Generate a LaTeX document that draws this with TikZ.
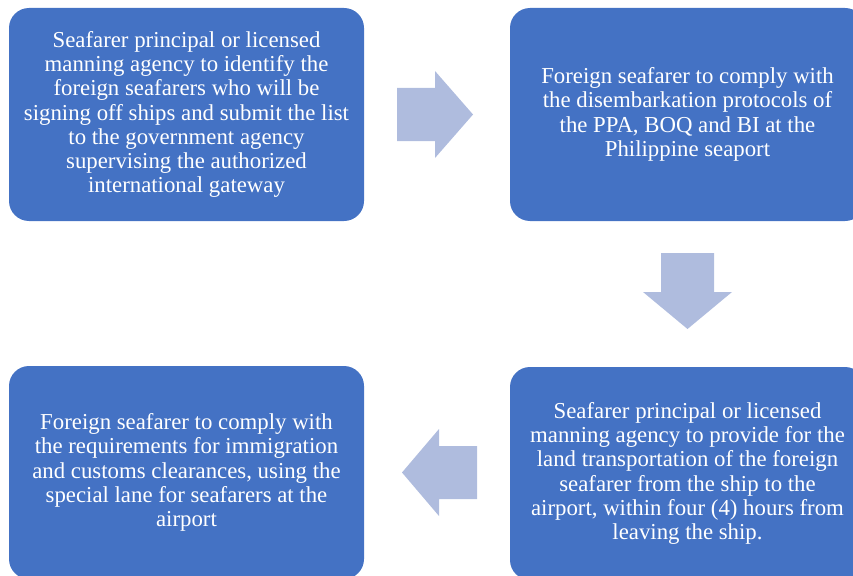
\documentclass[tikz,border=0pt]{standalone}
\usepackage{fontspec}
\setmainfont{Liberation Serif}
\usepackage{xcolor}
\definecolor{stepblue}{RGB}{68,114,196}
\definecolor{arrowblue}{RGB}{175,188,222}

\begin{document}
\begin{tikzpicture}[x=1pt, y=-1pt,
    stepbox/.style={fill=stepblue, rounded corners=20pt, minimum width=355pt, minimum height=213pt,
        text=white, align=center, inner sep=0pt, font=\fontsize{22.8}{24.3}\selectfont}, % box of one step
    blockarrow/.style={fill=arrowblue}
    ]
\useasboundingbox (0,0) rectangle (853,575);
\clip (0,0) rectangle (853,575);

\node[stepbox] (s1) at (186.5,114.5) {Seafarer principal or licensed\\ manning agency to identify the\\ foreign seafarers who will be\\ signing off ships and submit the list\\ to the government agency\\ supervising the authorized\\ international gateway};
\node[stepbox] (s2) at (687.5,114.5) {Foreign seafarer to comply with\\ the disembarkation protocols of\\ the PPA, BOQ and BI at the\\ Philippine seaport};
\node[stepbox] (s3) at (687.5,473.5) {Seafarer principal or licensed\\ manning agency to provide for the\\ land transportation of the foreign\\ seafarer from the ship to the\\ airport, within four (4) hours from\\ leaving the ship.};
\node[stepbox] (s4) at (186.5,472.5) {Foreign seafarer to comply with\\ the requirements for immigration\\ and customs clearances, using the\\ special lane for seafarers at the\\ airport};

% arrows between the steps
\fill[blockarrow] (397,88) -- (435,88) -- (435,71) -- (473,114.5) -- (435,158) -- (435,141) -- (397,141) -- cycle;
\fill[blockarrow] (661,253) -- (714,253) -- (714,292) -- (732,292) -- (687.5,329) -- (643,292) -- (661,292) -- cycle;
\fill[blockarrow] (477,446) -- (439,446) -- (439,429) -- (402,472.5) -- (439,516) -- (439,499) -- (477,499) -- cycle;
\end{tikzpicture}
\end{document}
